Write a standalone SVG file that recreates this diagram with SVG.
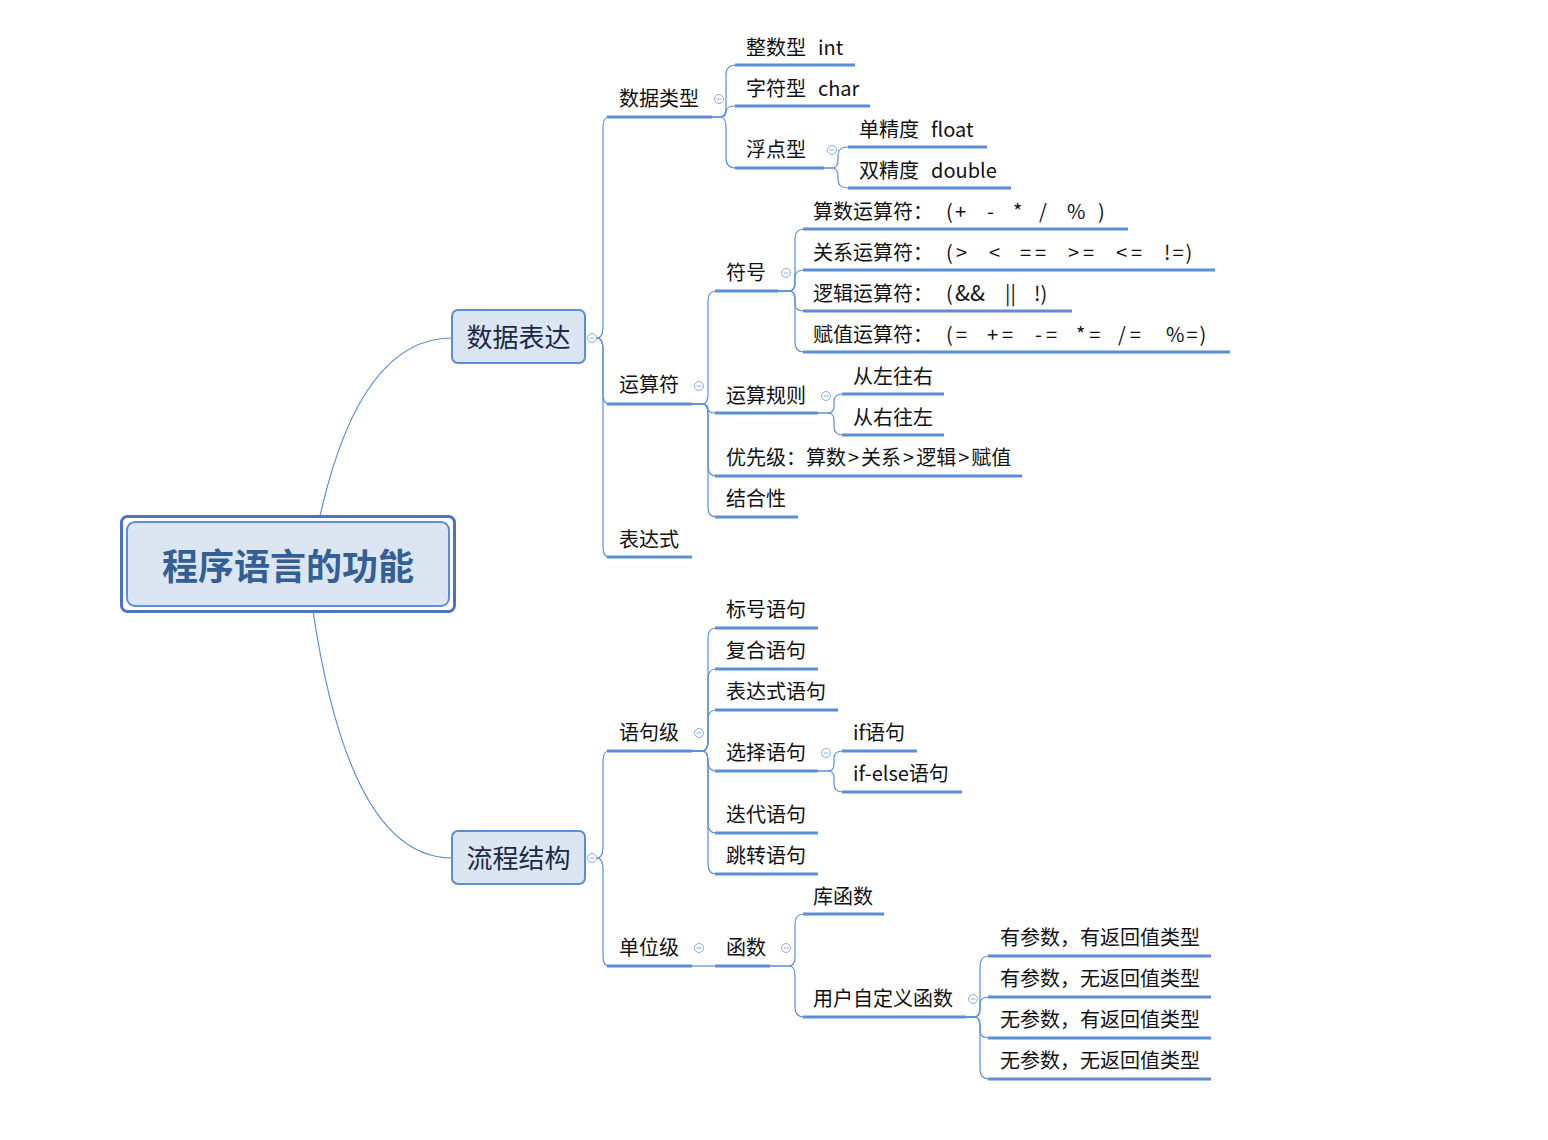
<svg xmlns="http://www.w3.org/2000/svg" width="1548" height="1140" viewBox="0 0 1548 1140">
<style>
.t{font-family:"Noto Sans CJK SC","Noto Sans",sans-serif;font-size:20px;fill:#111}
.op{letter-spacing:4px}
.l1{font-family:"Noto Sans CJK SC","Noto Sans",sans-serif;font-size:26px;fill:#1b2a47;text-anchor:middle}
.rt{font-family:"Noto Sans CJK SC","Noto Sans",sans-serif;font-size:36px;font-weight:bold;fill:#335f95;text-anchor:middle}
.ul{stroke:#5b8ed6;stroke-width:3;fill:none}
.c{stroke:#5b8ed6;stroke-width:1.2;fill:none}
.col circle{fill:#fff;stroke:#8aaee0;stroke-width:1}
.col line{stroke:#8aaee0;stroke-width:1}
.n1{fill:#dce6f2;stroke:#5b8ed6;stroke-width:2}
</style>
<rect width="1548" height="1140" fill="#fff"/>
<g id="connectors">
<path class="c" d="M320 516 Q360 338 452 338"/>
<path class="c" d="M313 611 Q350 858 452 858"/>
<path class="c" d="M597 338 Q603 338 603 326 L603 127 Q603 117 609 117"/>
<path class="c" d="M597 338 Q603 338 603 350 L603 394 Q603 404 609 404"/>
<path class="c" d="M597 338 Q603 338 603 350 L603 547 Q603 557 609 557"/>
<path class="c" d="M712 117 L720 117 Q726 117 726 107 L726 75 Q726 65 736 65"/>
<path class="c" d="M712 117 L720 117 Q726 117 726 112 L726 111 Q726 106 736 106"/>
<path class="c" d="M712 117 L720 117 Q726 117 726 127 L726 158 Q726 168 736 168"/>
<path class="c" d="M824 168 L832 168 Q838 168 838 160 L838 155 Q838 147 848 147"/>
<path class="c" d="M824 168 L832 168 Q838 168 838 176 L838 180 Q838 188 848 188"/>
<path class="c" d="M692 404 L702 404 Q708 404 708 394 L708 301 Q708 291 716 291"/>
<path class="c" d="M692 404 L702 404 Q708 404 708 408 L708 409 Q708 413 716 413"/>
<path class="c" d="M692 404 L702 404 Q708 404 708 414 L708 466 Q708 476 716 476"/>
<path class="c" d="M692 404 L702 404 Q708 404 708 414 L708 507 Q708 517 716 517"/>
<path class="c" d="M778 291 L789 291 Q795 291 795 281 L795 239 Q795 229 804 229"/>
<path class="c" d="M778 291 L789 291 Q795 291 795 284 L795 277 Q795 270 804 270"/>
<path class="c" d="M778 291 L789 291 Q795 291 795 298 L795 304 Q795 311 804 311"/>
<path class="c" d="M778 291 L789 291 Q795 291 795 301 L795 342 Q795 352 804 352"/>
<path class="c" d="M818 413 L828 413 Q834 413 834 406 L834 401 Q834 394 843 394"/>
<path class="c" d="M818 413 L828 413 Q834 413 834 420 L834 427 Q834 435 843 435"/>
<path class="c" d="M597 858 Q603 858 603 846 L603 761 Q603 751 609 751"/>
<path class="c" d="M597 858 Q603 858 603 870 L603 956 Q603 966 609 966"/>
<path class="c" d="M692 751 L702 751 Q708 751 708 741 L708 638 Q708 628 716 628"/>
<path class="c" d="M692 751 L702 751 Q708 751 708 741 L708 679 Q708 669 716 669"/>
<path class="c" d="M692 751 L702 751 Q708 751 708 741 L708 720 Q708 710 716 710"/>
<path class="c" d="M692 751 L702 751 Q708 751 708 761 L708 761 Q708 771 716 771"/>
<path class="c" d="M692 751 L702 751 Q708 751 708 761 L708 823 Q708 833 716 833"/>
<path class="c" d="M692 751 L702 751 Q708 751 708 761 L708 864 Q708 874 716 874"/>
<path class="c" d="M818 771 L828 771 Q834 771 834 764 L834 758 Q834 751 843 751"/>
<path class="c" d="M818 771 L828 771 Q834 771 834 778 L834 784 Q834 792 843 792"/>
<path class="c" d="M692 966 L716 966"/>
<path class="c" d="M770 966 L789 966 Q795 966 795 956 L795 924 Q795 914 804 914"/>
<path class="c" d="M770 966 L789 966 Q795 966 795 976 L795 1007 Q795 1017 804 1017"/>
<path class="c" d="M966 1017 L974 1017 Q980 1017 980 1007 L980 966 Q980 956 989 956"/>
<path class="c" d="M966 1017 L974 1017 Q980 1017 980 1010 L980 1004 Q980 997 989 997"/>
<path class="c" d="M966 1017 L974 1017 Q980 1017 980 1024 L980 1031 Q980 1038 989 1038"/>
<path class="c" d="M966 1017 L974 1017 Q980 1017 980 1027 L980 1069 Q980 1079 989 1079"/>
</g>
<g id="root">
<rect x="121.5" y="516.5" width="333" height="95" rx="6" fill="#fff" stroke="#4d73c0" stroke-width="3"/>
<rect x="127" y="522" width="322" height="84" rx="8" class="n1" stroke-width="4"/>
<text class="rt" x="288" y="580">程序语言的功能</text>
</g>
<g id="n-shujubiaoda">
<rect x="452" y="310" width="133" height="53" rx="6" class="n1"/>
<text class="l1" x="518.5" y="347">数据表达</text>
</g>
<g id="n-liuchengjiegou">
<rect x="452" y="831" width="133" height="53" rx="6" class="n1"/>
<text class="l1" x="518.5" y="868">流程结构</text>
</g>
<g id="n-shujuleixing"><text class="t" x="619" y="106">数据类型</text><line class="ul" x1="607" y1="117" x2="712" y2="117"/></g>
<g id="n-int"><text class="t" x="746" y="55">整数型<tspan x="818">int</tspan></text><line class="ul" x1="735" y1="65" x2="855" y2="65"/></g>
<g id="n-char"><text class="t" x="746" y="96">字符型<tspan x="818">char</tspan></text><line class="ul" x1="735" y1="106" x2="870" y2="106"/></g>
<g id="n-fudian"><text class="t" x="746" y="157">浮点型</text><line class="ul" x1="735" y1="168" x2="824" y2="168"/></g>
<g id="n-float"><text class="t" x="859" y="137">单精度<tspan x="931">float</tspan></text><line class="ul" x1="848" y1="147" x2="987" y2="147"/></g>
<g id="n-double"><text class="t" x="859" y="178">双精度<tspan x="931">double</tspan></text><line class="ul" x1="848" y1="188" x2="1011" y2="188"/></g>
<g id="n-yunsuanfu"><text class="t" x="619" y="392">运算符</text><line class="ul" x1="607" y1="404" x2="692" y2="404"/></g>
<g id="n-fuhao"><text class="t" x="726" y="280">符号</text><line class="ul" x1="715" y1="291" x2="778" y2="291"/></g>
<g id="n-suanshu"><text class="t" x="813" y="219">算数运算符：<tspan x="946">(</tspan><tspan x="955">+</tspan><tspan x="987">-</tspan><tspan x="1013">*</tspan><tspan x="1039">/</tspan><tspan x="1067">%</tspan><tspan x="1098">)</tspan></text><line class="ul" x1="803" y1="229" x2="1128" y2="229"/></g>
<g id="n-guanxi"><text class="t" x="813" y="260">关系运算符：<tspan x="946">(</tspan><tspan x="956">&gt;</tspan><tspan x="989">&lt;</tspan><tspan class="op" x="1020">==</tspan><tspan class="op" x="1068">&gt;=</tspan><tspan class="op" x="1116">&lt;=</tspan><tspan x="1164" style="letter-spacing:2px">!=)</tspan></text><line class="ul" x1="803" y1="270" x2="1215" y2="270"/></g>
<g id="n-luoji"><text class="t" x="813" y="301">逻辑运算符：<tspan x="946">(</tspan><tspan x="955" style="font-size:22px">&amp;&amp;</tspan><tspan x="1005">||</tspan><tspan x="1034">!)</tspan></text><line class="ul" x1="803" y1="311" x2="1072" y2="311"/></g>
<g id="n-fuzhi"><text class="t" x="813" y="342">赋值运算符：<tspan x="946">(</tspan><tspan x="956">=</tspan><tspan class="op" x="987">+=</tspan><tspan class="op" x="1035">-=</tspan><tspan class="op" x="1076">*=</tspan><tspan class="op" x="1118">/=</tspan><tspan x="1166" style="letter-spacing:2px">%=)</tspan></text><line class="ul" x1="803" y1="352" x2="1230" y2="352"/></g>
<g id="n-guize"><text class="t" x="726" y="403">运算规则</text><line class="ul" x1="715" y1="413" x2="818" y2="413"/></g>
<g id="n-zuoyou"><text class="t" x="853" y="384">从左往右</text><line class="ul" x1="842" y1="394" x2="944" y2="394"/></g>
<g id="n-youzuo"><text class="t" x="853" y="425">从右往左</text><line class="ul" x1="842" y1="435" x2="944" y2="435"/></g>
<g id="n-youxianji"><text class="t" x="726" y="465">优先级：算数<tspan dx="2">&gt;</tspan><tspan dx="2">关系</tspan><tspan dx="2">&gt;</tspan><tspan dx="2">逻辑</tspan><tspan dx="2">&gt;</tspan><tspan dx="2">赋值</tspan></text><line class="ul" x1="715" y1="476" x2="1022" y2="476"/></g>
<g id="n-jiehexing"><text class="t" x="726" y="506">结合性</text><line class="ul" x1="715" y1="517" x2="798" y2="517"/></g>
<g id="n-biaodashi"><text class="t" x="619" y="547">表达式</text><line class="ul" x1="607" y1="557" x2="692" y2="557"/></g>
<g id="n-yujuji"><text class="t" x="619" y="740">语句级</text><line class="ul" x1="607" y1="751" x2="692" y2="751"/></g>
<g id="n-biaohao"><text class="t" x="726" y="617">标号语句</text><line class="ul" x1="715" y1="628" x2="818" y2="628"/></g>
<g id="n-fuhe"><text class="t" x="726" y="658">复合语句</text><line class="ul" x1="715" y1="669" x2="818" y2="669"/></g>
<g id="n-biaodashiyuju"><text class="t" x="726" y="699">表达式语句</text><line class="ul" x1="715" y1="710" x2="838" y2="710"/></g>
<g id="n-xuanze"><text class="t" x="726" y="760">选择语句</text><line class="ul" x1="715" y1="771" x2="818" y2="771"/></g>
<g id="n-if"><text class="t" x="853" y="740">if语句</text><line class="ul" x1="842" y1="751" x2="917" y2="751"/></g>
<g id="n-ifelse"><text class="t" x="853" y="781">if-else语句</text><line class="ul" x1="842" y1="792" x2="962" y2="792"/></g>
<g id="n-diedai"><text class="t" x="726" y="822">迭代语句</text><line class="ul" x1="715" y1="833" x2="818" y2="833"/></g>
<g id="n-tiaozhuan"><text class="t" x="726" y="863">跳转语句</text><line class="ul" x1="715" y1="874" x2="818" y2="874"/></g>
<g id="n-danweiji"><text class="t" x="619" y="955">单位级</text><line class="ul" x1="607" y1="966" x2="692" y2="966"/></g>
<g id="n-hanshu"><text class="t" x="726" y="955">函数</text><line class="ul" x1="715" y1="966" x2="770" y2="966"/></g>
<g id="n-kuhanshu"><text class="t" x="813" y="904">库函数</text><line class="ul" x1="803" y1="914" x2="884" y2="914"/></g>
<g id="n-zidingyi"><text class="t" x="813" y="1006">用户自定义函数</text><line class="ul" x1="803" y1="1017" x2="966" y2="1017"/></g>
<g id="n-f1"><text class="t" x="1000" y="945">有参数，有返回值类型</text><line class="ul" x1="988" y1="956" x2="1211" y2="956"/></g>
<g id="n-f2"><text class="t" x="1000" y="986">有参数，无返回值类型</text><line class="ul" x1="988" y1="997" x2="1211" y2="997"/></g>
<g id="n-f3"><text class="t" x="1000" y="1027">无参数，有返回值类型</text><line class="ul" x1="988" y1="1038" x2="1211" y2="1038"/></g>
<g id="n-f4"><text class="t" x="1000" y="1068">无参数，无返回值类型</text><line class="ul" x1="988" y1="1079" x2="1211" y2="1079"/></g>
<g id="collapse" class="col">
<circle cx="592" cy="338" r="4.5"/><line x1="589.5" y1="338" x2="594.5" y2="338"/>
<circle cx="719" cy="99" r="4.5"/><line x1="716.5" y1="99" x2="721.5" y2="99"/>
<circle cx="832" cy="150" r="4.5"/><line x1="829.5" y1="150" x2="834.5" y2="150"/>
<circle cx="699" cy="386" r="4.5"/><line x1="696.5" y1="386" x2="701.5" y2="386"/>
<circle cx="786" cy="273" r="4.5"/><line x1="783.5" y1="273" x2="788.5" y2="273"/>
<circle cx="826" cy="396" r="4.5"/><line x1="823.5" y1="396" x2="828.5" y2="396"/>
<circle cx="592" cy="858" r="4.5"/><line x1="589.5" y1="858" x2="594.5" y2="858"/>
<circle cx="699" cy="733" r="4.5"/><line x1="696.5" y1="733" x2="701.5" y2="733"/>
<circle cx="826" cy="753" r="4.5"/><line x1="823.5" y1="753" x2="828.5" y2="753"/>
<circle cx="699" cy="948" r="4.5"/><line x1="696.5" y1="948" x2="701.5" y2="948"/>
<circle cx="786" cy="948" r="4.5"/><line x1="783.5" y1="948" x2="788.5" y2="948"/>
<circle cx="973" cy="999" r="4.5"/><line x1="970.5" y1="999" x2="975.5" y2="999"/>
</g>
</svg>
